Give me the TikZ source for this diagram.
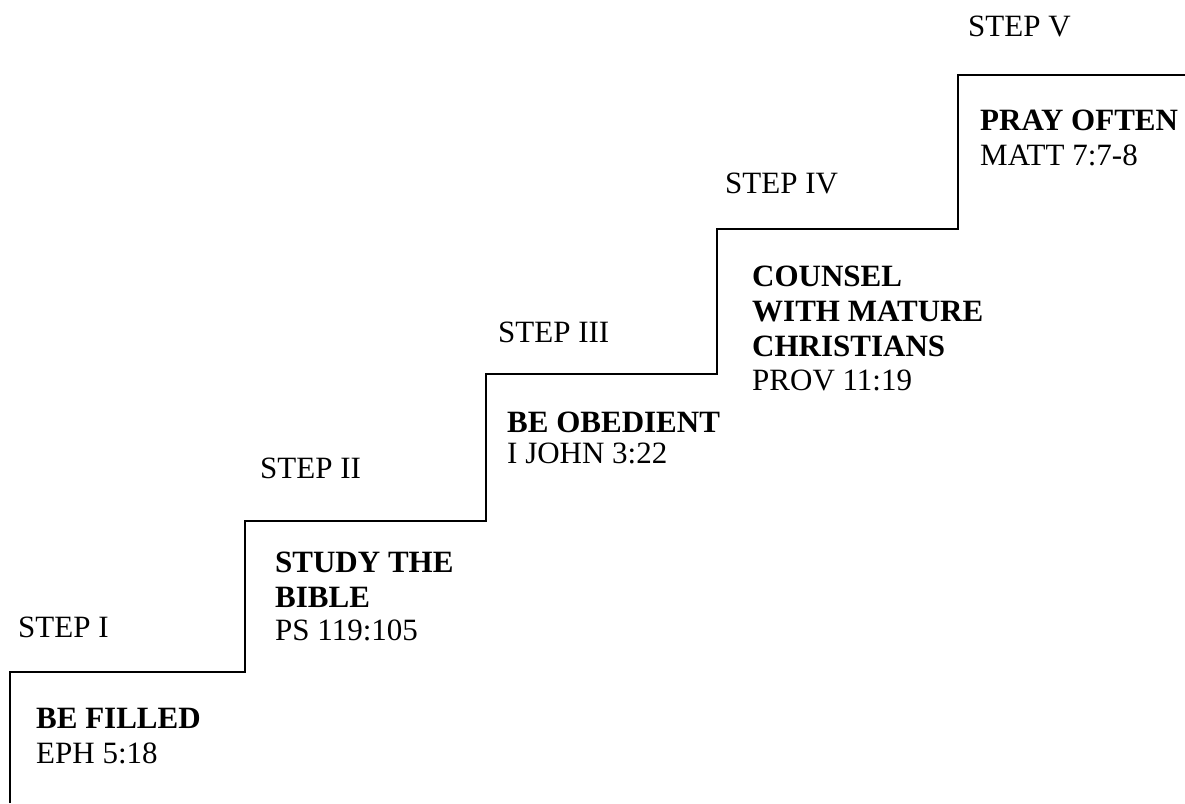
\documentclass[tikz,border=0pt]{standalone}
\usepackage{fontspec}
\setmainfont{Liberation Serif}
\usetikzlibrary{positioning}

\begin{document}
\begin{tikzpicture}[x=1pt,y=-1pt,
    steptag/.style={anchor=base west, inner sep=0pt, font=\fontsize{31}{35}\selectfont},
    goal/.style={anchor=base west, inner sep=0pt, align=left, font=\fontsize{31}{35}\selectfont\bfseries},
    verse/.style={anchor=base west, inner sep=0pt, font=\fontsize{31}{35}\selectfont}]
    \useasboundingbox (0,0) rectangle (1185,803);

    % Draw the stairs
    \draw[line width=1.6pt]
        (10,803) -- (10,672) -- (245,672) -- (245,521) -- (486,521)
        -- (486,374) -- (717,374) -- (717,229) -- (958,229)
        -- (958,75) -- (1185,75);

    % Step I
    \node[steptag] (tagI) at (18,637) {STEP I};
    \node[goal] (goalI) at (36,728) {BE FILLED};
    \node[verse] (verseI) at (36,763) {EPH 5:18};

    % Step II (base of a multi-line node = last line)
    \node[steptag] (tagII) at (260,478) {STEP II};
    \node[goal] (goalII) at (275,607) {STUDY THE\\BIBLE};
    \node[verse] (verseII) at (275,640) {PS 119:105};

    % Step III
    \node[steptag] (tagIII) at (498,342) {STEP III};
    \node[goal] (goalIII) at (507,432) {BE OBEDIENT};
    \node[verse] (verseIII) at (507,463) {I JOHN 3:22};

    % Step IV
    \node[steptag] (tagIV) at (725,193) {STEP IV};
    \node[goal] (goalIV) at (752,356) {COUNSEL\\WITH MATURE\\CHRISTIANS};
    \node[verse] (verseIV) at (752,390) {PROV 11:19};

    % Step V
    \node[steptag] (tagV) at (968,36) {STEP V};
    \node[goal] (goalV) at (980,130) {PRAY OFTEN};
    \node[verse] (verseV) at (980,165) {MATT 7:7-8};
\end{tikzpicture}
\end{document}
